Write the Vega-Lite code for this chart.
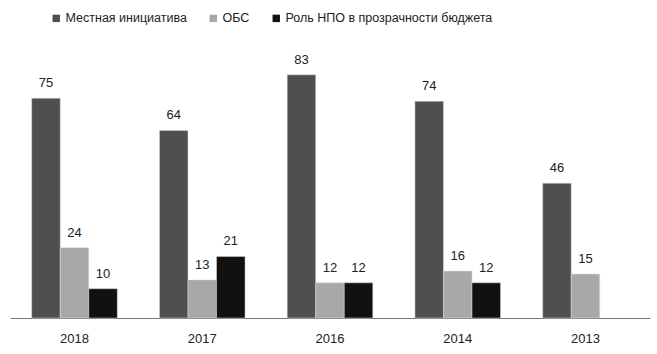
{
  "$schema": "https://vega.github.io/schema/vega-lite/v6.json",
  "autosize": {"type": "none"},
  "width": 640,
  "height": 293,
  "padding": {"left": 10, "top": 25, "right": 7, "bottom": 36},
  "background": "white",
  "config": {
    "view": {"stroke": null},
    "font": "Liberation Sans"
  },
  "data": {
    "values": [
      {"year": "2018", "series": "Местная инициатива", "value": 75},
      {"year": "2018", "series": "ОБС", "value": 24},
      {"year": "2018", "series": "Роль НПО в прозрачности бюджета", "value": 10},
      {"year": "2017", "series": "Местная инициатива", "value": 64},
      {"year": "2017", "series": "ОБС", "value": 13},
      {"year": "2017", "series": "Роль НПО в прозрачности бюджета", "value": 21},
      {"year": "2016", "series": "Местная инициатива", "value": 83},
      {"year": "2016", "series": "ОБС", "value": 12},
      {"year": "2016", "series": "Роль НПО в прозрачности бюджета", "value": 12},
      {"year": "2014", "series": "Местная инициатива", "value": 74},
      {"year": "2014", "series": "ОБС", "value": 16},
      {"year": "2014", "series": "Роль НПО в прозрачности бюджета", "value": 12},
      {"year": "2013", "series": "Местная инициатива", "value": 46},
      {"year": "2013", "series": "ОБС", "value": 15}
    ]
  },
  "encoding": {
    "x": {
      "field": "year", "type": "nominal",
      "sort": ["2018", "2017", "2016", "2014", "2013"],
      "scale": {"paddingInner": 0.33, "paddingOuter": 0.17},
      "axis": {
        "title": null, "labelAngle": 0, "ticks": false,
        "domainColor": "#777", "domainWidth": 1.2,
        "labelFontSize": 13, "labelColor": "#222", "labelPadding": 14
      }
    },
    "xOffset": {
      "field": "series", "type": "nominal",
      "scale": {"domain": ["Местная инициатива", "ОБС", "Роль НПО в прозрачности бюджета"], "paddingInner": 0, "paddingOuter": 0}
    },
    "y": {
      "field": "value", "type": "quantitative",
      "scale": {"domain": [0, 100], "nice": false},
      "axis": null
    }
  },
  "layer": [
    {
      "mark": {"type": "bar", "stroke": "#ddd", "strokeWidth": 0.5},
      "encoding": {
        "color": {
          "field": "series", "type": "nominal",
          "scale": {
            "domain": ["Местная инициатива", "ОБС", "Роль НПО в прозрачности бюджета"],
            "range": ["#4f4f4f", "#a8a8a8", "#111111"]
          },
          "legend": {
            "title": null, "orient": "none", "direction": "horizontal",
            "legendX": 40, "legendY": -13,
            "symbolType": "square", "symbolSize": 55, "symbolStrokeWidth": 0,
            "labelFontSize": 12.5, "labelColor": "#222", "columnPadding": 20,
            "labelOffset": 3, "labelLimit": 0
          }
        }
      }
    },
    {
      "mark": {"type": "text", "baseline": "bottom", "dy": -8, "fontSize": 13, "color": "#222"},
      "encoding": {
        "text": {"field": "value", "type": "quantitative"}
      }
    }
  ]
}
